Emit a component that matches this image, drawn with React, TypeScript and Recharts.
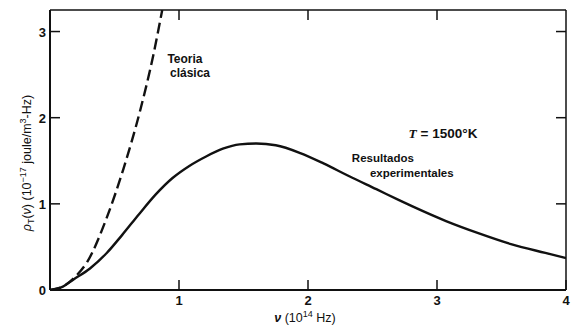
import { LineChart, Line, XAxis, YAxis, ReferenceDot } from "recharts";

// Resultados experimentales (Planck)
const nuExp = [0, 0.1, 0.18, 0.31, 0.44, 0.56, 0.69, 0.82, 0.95, 1.08, 1.21, 1.34, 1.47, 1.6, 1.75, 1.94, 2.12, 2.32, 2.53, 2.71, 2.81, 3.07, 3.32, 3.58, 3.84, 4.0];
const rhoExp = [0, 0.04, 0.12, 0.25, 0.43, 0.64, 0.88, 1.11, 1.3, 1.44, 1.55, 1.64, 1.69, 1.7, 1.68, 1.59, 1.47, 1.32, 1.17, 1.04, 0.97, 0.8, 0.66, 0.53, 0.43, 0.37];

// Teoría clásica (Rayleigh-Jeans), dashed
const nuRJ = [0, 0.1, 0.2, 0.29, 0.44, 0.57, 0.7, 0.8, 0.87];
const rhoRJ = [0, 0.04, 0.16, 0.33, 0.84, 1.41, 2.09, 2.72, 3.25];

const xTicks = [0, 1, 2, 3, 4];
const yTicks = [0, 1, 2, 3];

const expData = nuExp.map((nu, i) => ({ nu, rho: rhoExp[i] }));
const rjData = nuRJ.map((nu, i) => ({ nu, rho: rhoRJ[i] }));

const FONT = "'Liberation Sans', Arial, sans-serif";
const INK = "#111";
const TICK = 10;

function BottomTick({ x, y, payload }: any) {
  return (
    <g>
      <line x1={x} x2={x} y1={y} y2={y - TICK} stroke={INK} strokeWidth={1.5} />
      {payload.value !== 0 && (
        <text x={x} y={y + 15} textAnchor="middle" fontFamily={FONT} fontWeight={700} fontSize={13} fill={INK}>
          {payload.value}
        </text>
      )}
    </g>
  );
}

function TopTick({ x, y, payload }: any) {
  if (payload.value === 0 || payload.value === 4) return null;
  return <line x1={x} x2={x} y1={y} y2={y + TICK} stroke={INK} strokeWidth={1.5} />;
}

function LeftTick({ x, y, payload }: any) {
  return (
    <g>
      <line x1={x} x2={x + TICK} y1={y} y2={y} stroke={INK} strokeWidth={1.5} />
      <text x={x - 4} y={y + 5} textAnchor="end" fontFamily={FONT} fontWeight={700} fontSize={13} fill={INK}>
        {payload.value}
      </text>
    </g>
  );
}

function RightTick({ x, y, payload }: any) {
  if (payload.value === 0) return null;
  return <line x1={x} x2={x - TICK} y1={y} y2={y} stroke={INK} strokeWidth={1.5} />;
}

const note = (text: string, size = 11.5) => (p: any) => (
  <text x={p.cx} y={p.cy} fontFamily={FONT} fontWeight={700} fontSize={size} fill={INK}>
    {text}
  </text>
);

export default function App() {
  return (
    <div style={{ position: "absolute", left: 0, top: 0, width: 572, height: 331, background: "#fff" }}>
      <LineChart width={572} height={331} margin={{ top: 9, right: 5, bottom: 0, left: 0 }}>
        <XAxis
          xAxisId="b"
          dataKey="nu"
          type="number"
          domain={[0, 4]}
          ticks={xTicks}
          height={41}
          tickSize={0}
          tickMargin={0}
          tickLine={false}
          tick={<BottomTick />}
          axisLine={{ stroke: INK, strokeWidth: 2 }}
          allowDataOverflow
        />
        <XAxis
          xAxisId="t"
          orientation="top"
          dataKey="nu"
          type="number"
          domain={[0, 4]}
          ticks={xTicks}
          height={1}
          tickSize={0}
          tickMargin={0}
          tickLine={false}
          tick={<TopTick />}
          axisLine={{ stroke: INK, strokeWidth: 1.5 }}
        />
        <YAxis
          yAxisId="l"
          type="number"
          domain={[0, 3.25]}
          ticks={yTicks}
          width={50}
          tickSize={0}
          tickMargin={0}
          tickLine={false}
          tick={<LeftTick />}
          axisLine={{ stroke: INK, strokeWidth: 2 }}
          allowDataOverflow
        />
        <YAxis
          yAxisId="r"
          orientation="right"
          type="number"
          domain={[0, 3.25]}
          ticks={yTicks}
          width={1}
          tickSize={0}
          tickMargin={0}
          tickLine={false}
          tick={<RightTick />}
          axisLine={{ stroke: INK, strokeWidth: 1.5 }}
        />
        {/* frame lines: top and right axes need a series bound to them */}
        <Line xAxisId="t" yAxisId="r" data={rjData} dataKey="rho" stroke="none" dot={false} isAnimationActive={false} />
        <Line
          xAxisId="b"
          yAxisId="l"
          data={rjData}
          dataKey="rho"
          type="monotone"
          stroke={INK}
          strokeWidth={2.4}
          strokeDasharray="11 5"
          dot={false}
          isAnimationActive={false}
        />
        <Line
          xAxisId="b"
          yAxisId="l"
          data={expData}
          dataKey="rho"
          type="monotone"
          stroke={INK}
          strokeWidth={2.4}
          dot={false}
          isAnimationActive={false}
        />
        <ReferenceDot xAxisId="b" yAxisId="l" x={0.91} y={2.64} r={0} shape={note("Teoria", 12)} />
        <ReferenceDot xAxisId="b" yAxisId="l" x={0.93} y={2.47} r={0} shape={note("clásica", 12)} />
        <ReferenceDot
          xAxisId="b"
          yAxisId="l"
          x={2.78}
          y={1.76}
          r={0}
          shape={(p: any) => (
            <text x={p.cx} y={p.cy} fontFamily={FONT} fontWeight={700} fontSize={13.5} fill={INK}>
              <tspan fontFamily="'Liberation Serif', serif" fontStyle="italic">T</tspan>
              <tspan> = 1500°K</tspan>
            </text>
          )}
        />
        <ReferenceDot xAxisId="b" yAxisId="l" x={2.34} y={1.48} r={0} shape={note("Resultados")} />
        <ReferenceDot xAxisId="b" yAxisId="l" x={2.48} y={1.31} r={0} shape={note("experimentales")} />
      </LineChart>
      <svg width={572} height={331} style={{ position: "absolute", left: 0, top: 0, pointerEvents: "none" }}>
        <text
          transform="translate(31,163) rotate(-90)"
          textAnchor="middle"
          fontFamily={FONT}
          fontSize={12.5}
          fill={INK}
        >
          <tspan fontStyle="italic">ρ</tspan>
          <tspan fontSize={9} dy={3}>T</tspan>
          <tspan dy={-3}>(</tspan>
          <tspan fontStyle="italic">ν</tspan>
          <tspan>) (10</tspan>
          <tspan fontSize={9} dy={-5}>−17</tspan>
          <tspan dy={5}> joule/m</tspan>
          <tspan fontSize={9} dy={-5}>3</tspan>
          <tspan dy={5}>-Hz)</tspan>
        </text>
        <text x={305} y={322} textAnchor="middle" fontFamily={FONT} fontSize={12.5} fill={INK}>
          <tspan fontStyle="italic" fontWeight={700}>ν</tspan>
          <tspan> (10</tspan>
          <tspan fontSize={9} dy={-5}>14</tspan>
          <tspan dy={5}> Hz)</tspan>
        </text>
      </svg>
    </div>
  );
}
